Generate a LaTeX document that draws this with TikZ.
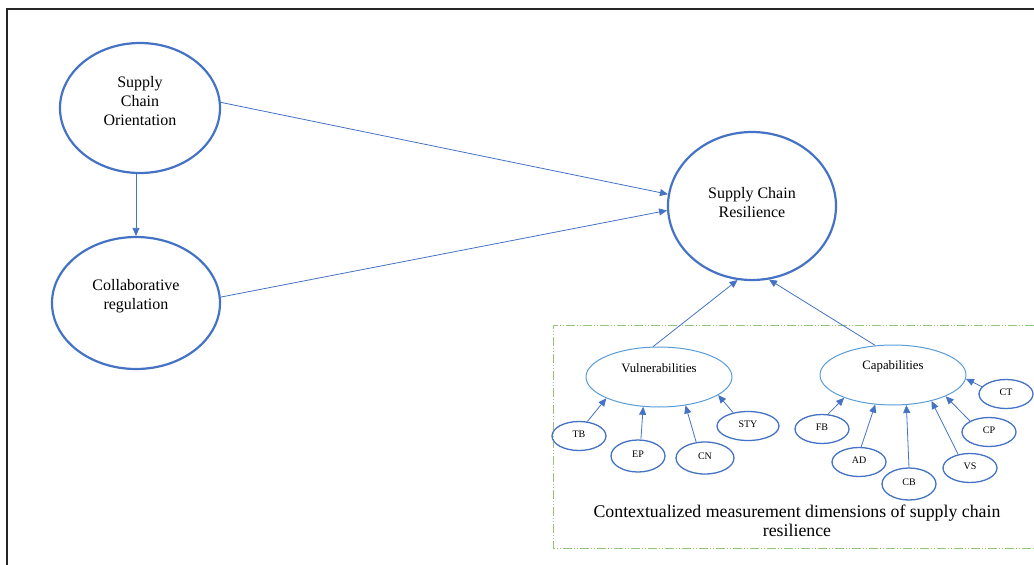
\documentclass[tikz,border=0pt]{standalone}
\usepackage{fontspec}
\setmainfont{Liberation Serif}
\usetikzlibrary{shapes.geometric,arrows.meta}
\definecolor{linkblue}{HTML}{4472C4}
\definecolor{paleblue}{HTML}{5B9BD5}
\definecolor{boxgreen}{HTML}{93C47D}

\begin{document}
\begin{tikzpicture}[x=1pt,y=-1pt,
    construct/.style={ellipse,draw=linkblue,line width=2.2pt,inner sep=0pt,align=center,font=\fontsize{16}{19}\selectfont},
    dimension/.style={ellipse,draw=paleblue,line width=1pt,inner sep=0pt,minimum width=146pt,minimum height=60pt,font=\fontsize{12.8}{14}\selectfont},
    item/.style={ellipse,draw=linkblue,line width=1.3pt,inner sep=0pt,minimum width=54pt,minimum height=29pt,text depth=4pt,font=\fontsize{10}{11}\selectfont},
    link/.style={draw=linkblue,line width=0.8pt,-{Triangle[length=8pt,width=7pt]}}]
    \useasboundingbox (0,0) rectangle (1034,565);
    % outer frame
    \draw[line width=2pt,black!85] (7,565) -- (7,9) -- (1034,9);
    % main constructs
    \node[construct,minimum width=160pt,minimum height=130pt,text depth=14pt] (sco) at (140,108) {Supply\\Chain\\Orientation};
    \node[construct,minimum width=168pt,minimum height=132pt,text depth=18pt] (colreg) at (136,303) {Collaborative\\regulation};
    \node[construct,minimum width=168pt,minimum height=148pt,text depth=8pt] (scr) at (752,206) {Supply Chain\\Resilience};
    \draw[link] (colreg.north |- sco.south) -- (colreg.north);
    \draw[link] (sco.4) -- (scr.172);
    \draw[link] (colreg.4) -- (scr.183);
    % measurement box
    \draw[boxgreen,line width=1pt,dash pattern=on 9pt off 2pt on 1pt off 2pt on 1pt off 2pt] (1034,325) -- (553,325) -- (553,548) -- (1034,548);
    \node[dimension,text depth=18pt] (vul) at (659,377) {Vulnerabilities};
    \node[dimension,text depth=19.5pt] (cap) at (893,375) {Capabilities};
    \draw[link] (vul.101) -- (scr.259);
    \draw[link] (cap.121) -- (scr.283);
    % vulnerability items
    \node[item] (tb) at (579,436) {TB};
    \node[item,minimum height=32pt] (ep) at (638,456) {EP};
    \node[item,minimum width=58pt,minimum height=32pt] (cn) at (705,458) {CN};
    \node[item,minimum width=62pt] (sty) at (748,426) {STY};
    \draw[link] (tb.60) -- (vul.202);
    \draw[link] (ep.80) -- (vul.242);
    \draw[link] (cn.119) -- (vul.313);
    \draw[link] (sty.138) -- (vul.343);
    % capability items
    \node[item] (fb) at (822,429) {FB};
    \node[item] (ad) at (859,462) {AD};
    \node[item,minimum height=32pt] (cb) at (909,484) {CB};
    \node[item] (vs) at (970,468) {VS};
    \node[item] (cp) at (989,432) {CP};
    \node[item] (ct) at (1006,394) {CT};
    \draw[link] (fb.68) -- (cap.205);
    \draw[link] (ad.82) -- (cap.239);
    \draw[link] (cb.90) -- (cap.294);
    \draw[link] (vs.131) -- (cap.326);
    \draw[link] (cp.150) -- (cap.338);
    \draw[link] (ct.163) -- (cap.357);
    \node[align=center,font=\fontsize{17.8}{18.5}\selectfont] (caption) at (797,521) {Contextualized measurement dimensions of supply chain\\resilience};
\end{tikzpicture}
\end{document}
